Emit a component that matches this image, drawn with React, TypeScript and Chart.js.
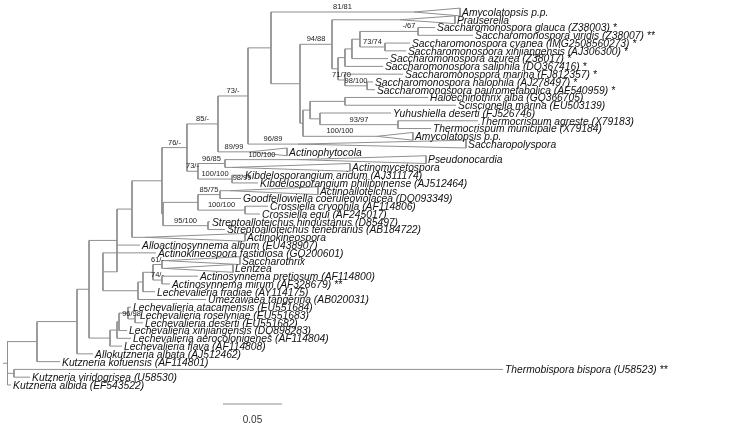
import React, { useEffect, useRef } from 'react';
import { Chart, registerables } from 'chart.js';
Chart.register(...registerables);

// ---- tips (top to bottom) ----
const taxa: string[] = [
  'Amycolatopsis p.p.',
  'Prauserella',
  'Saccharomonospora glauca (Z38003) *',
  'Saccharomonospora viridis (Z38007) **',
  'Saccharomonospora cyanea (IMG2508560273) *',
  'Saccharomonospora xinjiangensis (AJ306300) *',
  'Saccharomonospora azurea (Z38017) *',
  'Saccharomonospora saliphila (DQ367416) *',
  'Saccharomonospora marina (FJ812357) *',
  'Saccharomonospora halophila (AJ278497) *',
  'Saccharomonospora paurometabolica (AF540959) *',
  'Haloechinothrix alba (GQ366705)',
  'Sciscionella marina (EU503139)',
  'Yuhushiella deserti (FJ526746)',
  'Thermocrispum agreste (X79183)',
  'Thermocrispum municipale (X79184)',
  'Amycolatopsis p.p.',
  'Saccharopolyspora',
  'Actinophytocola',
  'Pseudonocardia',
  'Actinomycetospora',
  'Kibdelosporangium aridum (AJ311174)',
  'Kibdelosporangium philippinense (AJ512464)',
  'Actinoalloteichus',
  'Goodfellowiella coeruleoviolacea (DQ093349)',
  'Crossiella cryophila (AF114806)',
  'Crossiella equi (AF245017)',
  'Streptoalloteichus hindustanus (D85497)',
  'Streptoalloteichus tenebrarius (AB184722)',
  'Actinokineospora',
  'Alloactinosynnema album (EU438907)',
  'Actinokineospora fastidiosa (GQ200601)',
  'Saccharothrix',
  'Lentzea',
  'Actinosynnema pretiosum (AF114800)',
  'Actinosynnema mirum (AF328679) **',
  'Lechevalieria fradiae (AY114175)',
  'Umezawaea tangerina (AB020031)',
  'Lechevalieria atacamensis (EU551684)',
  'Lechevalieria roselyniae (EU551683)',
  'Lechevalieria deserti (EU551682)',
  'Lechevalieria xinjiangensis (DQ898283)',
  'Lechevalieria aerocolonigenes (AF114804)',
  'Lechevalieria flava (AF114808)',
  'Allokutzneria albata (AJ512462)',
  'Kutzneria kofuensis (AF114801)',
  'Thermobispora bispora (U58523) **',
  'Kutzneria viridogrisea (U58530)',
  'Kutzneria albida (EF543522)',
];

// distance from root to tip (or to the far edge of a collapsed clade)
const tipDepth: number[] = [
  0.3835, 0.3792, 0.3623, 0.3945, 0.3411, 0.3377, 0.3225, 0.3182, 0.3352, 0.3097,
  0.3114, 0.3564, 0.3801, 0.3250, 0.3987, 0.3589, 0.3436, 0.3886, 0.2369, 0.3547,
  0.2903, 0.1996, 0.2123, 0.2631, 0.1979, 0.2208, 0.2140, 0.1716, 0.1843, 0.2013,
  0.1123, 0.1258, 0.1970, 0.1911, 0.1614, 0.1377, 0.1250, 0.1682, 0.1047, 0.1106,
  0.1148, 0.1013, 0.1047, 0.0970, 0.0725, 0.0445, 0.4199, 0.0191, 0.0030,
];

// collapsed clades: depth of the triangle apex (null = single taxon)
const collapsedApex: (number | null)[] = [
  0.3445, 0.3326, null, null, null, null, null, null, null, null,
  null, null, null, null, null, null, 0.3131, 0.2462, 0.2055, 0.2470,
  0.1903, null, null, 0.1886, null, null, null, null, null, 0.1165,
  null, null, 0.1335, 0.1335, null, null, null, null, null, null,
  null, null, null, null, null, null, null, null, null,
];

const tipSupport: string[] = [
  '81/81', '', '', '', '', '', '', '', '', '',
  '', '', '', '', '', '', '100/100', '96/89', '89/99', '100/100',
  '', '', '', '', '', '', '', '', '', '',
  '', '', '', '', '', '', '', '', '', '',
  '', '', '', '', '', '', '', '', '',
];

// ---- internal nodes ----
const nodeIds: string[] = [
  'n1', 'n3', 'n2', 'n4', 'n5', 'n6', 'n8', 'n7b', 'n9', 'n10',
  'nHs', 'nTc', 'nYtc', 'nQ', 'nHal', 'nZ', 'n271', 'n250', 'n218', 'n225',
  'nK', 'nK2', 'n198', 'n187', 'n220', 'nCros', 'n198b', 'nStrep', 'n163', 'n162',
  'n132', 'n117', 'nSlz', 'nAm', 'n153', 'n143', 'n138', 'n103', 'nD', 'nC',
  'nB', 'nA', 'nLech', 'n89', 'n77', 'nIn', 'nTb', 'root',
];
const nodeDepth: number[] = [
  0.3479, 0.3326, 0.3199, 0.2987, 0.2919, 0.2860, 0.3047, 0.2860, 0.2801, 0.2750,
  0.2860, 0.3309, 0.2648, 0.2564, 0.2504, 0.2479, 0.2233, 0.2038, 0.1784, 0.1843,
  0.1903, 0.2072, 0.1614, 0.1521, 0.1801, 0.2013, 0.1614, 0.1699, 0.1318, 0.1309,
  0.1055, 0.0928, 0.1309, 0.1309, 0.1233, 0.1148, 0.1106, 0.0809, 0.1081, 0.1021,
  0.0945, 0.0928, 0.0869, 0.0691, 0.0589, 0.0250, 0.0055, 0.0,
];
const nodeChildren: string[][] = [
  ['t3', 't4'], ['n1'], ['t5', 't6'], ['n3', 'n2'], ['n4', 't7'], ['n5', 't8'], ['t10', 't11'], ['t9', 'n8'], ['n6', 'n7b'], ['t2', 'n9'],
  ['t12', 't13'], ['t15', 't16'], ['t14', 'nTc'], ['nHs', 'nYtc'], ['nQ', 't17'], ['n10', 'nHal'], ['t1', 'nZ'], ['n271', 't18'], ['n250', 't19'], ['t20', 't21'],
  ['t22', 'nK2'], ['t23'], ['n225', 'nK'], ['n218', 'n198'], ['t24', 't25'], ['t26', 't27'], ['n220', 'nCros'], ['t28', 't29'], ['n198b', 'nStrep'], ['n187', 'n163'],
  ['n162', 't30'], ['n132', 't31', 'n103'], ['t33', 't34'], ['t35', 't36'], ['nSlz', 'nAm'], ['n153', 't37'], ['n143', 't38'], ['t32', 'n138'], ['t40', 't41'], ['t39', 'nD'],
  ['nC', 't42'], ['nB', 't43'], ['nA', 't44'], ['n117', 'nLech'], ['n89', 't45'], ['n77', 't46'], ['t47', 't48'], ['nIn', 'nTb', 't49'],
];
const nodeSupport: string[] = [
  '-/67', '', '73/74', '', '', '', '98/100', '71/70', '', '94/88',
  '', '93/97', '', '', '', '', '', '73/-', '85/-', '96/85',
  '100/100', '98/99', '73/-', '76/-', '85/75', '100/100', '', '95/100', '', '',
  '', '', '61/-', '74/-', '', '', '', '', '96/98', '',
  '', '', '', '', '', '', '', '',
];

const rootStub = -0.0038;
const scaleBarStart = 0.1826;
const scaleBarLength = 0.05;
const scaleBarLabel = '0.05';

// ---- layout constants ----
const X_MIN = -0.00636;
const X_MAX = 0.62924;
const Y_MIN = -0.544;
const Y_MAX = 54.54;
const TRI_HALF = 0.5;
const SCALE_Y = 51.45;
const SCALE_TEXT_Y = 53.5;
const LINE_COLOR = '#8f8f8f';

type TNode = { d: number; start: number; y: number; children: string[]; support: string; leaf: boolean; idx: number };

function buildTree() {
  const map: Record<string, TNode> = {};
  taxa.forEach((_, i) => {
    const apex = collapsedApex[i];
    map['t' + (i + 1)] = { d: tipDepth[i], start: apex == null ? tipDepth[i] : apex, y: i + 1, children: [], support: tipSupport[i], leaf: true, idx: i };
  });
  nodeIds.forEach((id, k) => {
    map[id] = { d: nodeDepth[k], start: nodeDepth[k], y: NaN, children: nodeChildren[k], support: nodeSupport[k], leaf: false, idx: -1 };
  });
  const yOf = (id: string): number => {
    const n = map[id];
    if (!isNaN(n.y)) return n.y;
    const ys = n.children.map(yOf);
    n.y = (ys[0] + ys[ys.length - 1]) / 2;
    return n.y;
  };
  nodeIds.forEach(yOf);

  const segs: { x: number; y: number }[] = [];
  const line = (x1: number, y1: number, x2: number, y2: number) => {
    segs.push({ x: x1, y: y1 }, { x: x2, y: y2 }, { x: NaN, y: NaN });
  };
  const supports: { x: number; y: number; text: string }[] = [];

  nodeIds.forEach((id) => {
    const n = map[id];
    const first = map[n.children[0]];
    const last = map[n.children[n.children.length - 1]];
    if (n.children.length > 1) line(n.d, first.y, n.d, last.y);
    n.children.forEach((cid) => {
      const c = map[cid];
      line(n.d, c.y, c.start, c.y);
      if (c.leaf && collapsedApex[c.idx] != null) {
        segs.push(
          { x: c.start, y: c.y },
          { x: c.d, y: c.y - TRI_HALF },
          { x: c.d, y: c.y + TRI_HALF },
          { x: c.start, y: c.y },
          { x: NaN, y: NaN }
        );
      }
      if (c.support) supports.push({ x: (n.d + c.start) / 2, y: c.y, text: c.support });
    });
  });
  const root = map['root'];
  line(rootStub, root.y, root.d, root.y);
  return { segs, supports };
}

export default function App() {
  const ref = useRef<HTMLCanvasElement | null>(null);
  useEffect(() => {
    if (!ref.current) return;
    const { segs, supports } = buildTree();
    const labelPlugin = {
      id: 'treeLabels',
      afterDatasetsDraw(chart: any) {
        const ctx = chart.ctx as CanvasRenderingContext2D;
        const xs = chart.scales.x;
        const ys = chart.scales.y;
        ctx.save();
        ctx.fillStyle = '#111';
        ctx.font = 'italic 10.3px "Liberation Sans", Arial, sans-serif';
        ctx.textBaseline = 'middle';
        ctx.textAlign = 'left';
        taxa.forEach((name, i) => {
          ctx.fillText(name, xs.getPixelForValue(tipDepth[i]) + 2, ys.getPixelForValue(i + 1) + 1);
        });
        ctx.font = '7.5px "Liberation Sans", Arial, sans-serif';
        ctx.fillStyle = '#222';
        ctx.textAlign = 'center';
        ctx.textBaseline = 'alphabetic';
        supports.forEach((s) => {
          ctx.fillText(s.text, xs.getPixelForValue(s.x), ys.getPixelForValue(s.y) - 3);
        });
        ctx.font = '10px "Liberation Sans", Arial, sans-serif';
        ctx.fillStyle = '#333';
        ctx.textBaseline = 'middle';
        ctx.fillText(scaleBarLabel, xs.getPixelForValue(scaleBarStart + scaleBarLength / 2), ys.getPixelForValue(SCALE_TEXT_Y));
        ctx.restore();
      },
    };
    const chart = new Chart(ref.current, {
      type: 'scatter',
      data: {
        datasets: [
          {
            data: segs,
            showLine: true,
            spanGaps: false,
            borderColor: LINE_COLOR,
            borderWidth: 1,
            pointRadius: 0,
            pointHoverRadius: 0,
            fill: false,
          },
          {
            data: [
              { x: scaleBarStart, y: SCALE_Y },
              { x: scaleBarStart + scaleBarLength, y: SCALE_Y },
            ],
            showLine: true,
            borderColor: LINE_COLOR,
            borderWidth: 1,
            pointRadius: 0,
            pointHoverRadius: 0,
          },
        ],
      },
      options: {
        animation: false,
        responsive: true,
        maintainAspectRatio: false,
        layout: { padding: 0 },
        events: [],
        scales: {
          x: { type: 'linear', min: X_MIN, max: X_MAX, display: false },
          y: { type: 'linear', min: Y_MIN, max: Y_MAX, reverse: true, display: false },
        },
        plugins: { legend: { display: false }, tooltip: { enabled: false } },
      },
      plugins: [labelPlugin],
    } as any);
    return () => chart.destroy();
  }, []);
  return (
    <div style={{ position: 'absolute', left: 0, top: 0, width: 750, height: 428, background: '#fff' }}>
      <canvas ref={ref} />
    </div>
  );
}
